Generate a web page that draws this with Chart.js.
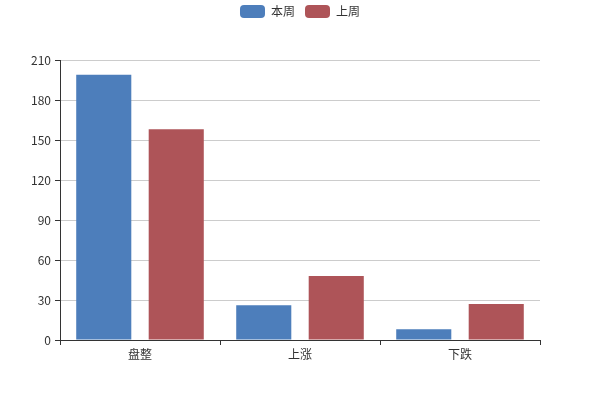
<!DOCTYPE html>
<html>
<head>
<meta charset="utf-8">
<script src="https://cdn.jsdelivr.net/npm/chart.js@4/dist/chart.umd.min.js"></script>
<style>
  html, body { margin: 0; padding: 0; background: #fff; }
  #wrap { width: 600px; height: 400px; }
</style>
</head>
<body>
<div id="wrap"><canvas id="chart"></canvas></div>
<script>
const categories = ['盘整', '上涨', '下跌']
const thisWeek = [199, 26, 8]
const lastWeek = [158, 48, 27]
const seriesNames = ['本周', '上周']

const fontFamily = '"Noto Sans CJK SC", "Microsoft YaHei", sans-serif'
const textColor = '#333'

const chartE = document.getElementById('chart')

// extra room below the legend, like the original
const legendGap = {
   id: 'legendGap',
   beforeInit(chart) {
      const fit = chart.legend.fit
      chart.legend.fit = function () {
         fit.call(this)
         this.height += 32
      }
   }
}

new Chart(chartE, {
   type: 'bar',
   data: {
      labels: categories,
      datasets: [
         {
            label: seriesNames[0],
            data: thisWeek,
            backgroundColor: '#4d7ebb',
            borderWidth: 0
         },
         {
            label: seriesNames[1],
            data: lastWeek,
            backgroundColor: '#ae5458',
            borderWidth: 0
         }
      ]
   },
   plugins: [legendGap],
   options: {
      responsive: true,
      maintainAspectRatio: false,
      animation: false,
      layout: {
         padding: { top: -5, right: 0, bottom: 0, left: 0 }
      },
      datasets: {
         bar: {
            categoryPercentage: 0.906,
            barPercentage: 0.76
         }
      },
      plugins: {
         legend: {
            position: 'top',
            labels: {
               boxWidth: 25,
               boxHeight: 13,
               useBorderRadius: true,
               borderRadius: 4,
               padding: 10,
               color: textColor,
               font: { family: fontFamily, size: 12 }
            }
         },
         tooltip: { enabled: false }
      },
      scales: {
         x: {
            border: { color: textColor, width: 1 },
            grid: {
               offset: true,
               drawOnChartArea: false,
               drawTicks: true,
               tickLength: 5,
               tickColor: textColor
            },
            ticks: {
               color: textColor,
               font: { family: fontFamily, size: 12 },
               padding: 2
            },
            afterFit: (scale) => { scale.height = 60 }
         },
         y: {
            min: 0,
            max: 210,
            border: { color: textColor, width: 1 },
            grid: {
               color: '#cccccc',
               drawTicks: true,
               tickLength: 5,
               tickColor: textColor
            },
            ticks: {
               stepSize: 30,
               color: textColor,
               font: { family: fontFamily, size: 12 },
               padding: 4
            },
            afterFit: (scale) => { scale.width = 60 }
         },
         // empty right-hand axis, only keeps the right margin
         yRight: {
            position: 'right',
            min: 0,
            max: 210,
            border: { display: false },
            grid: { display: false },
            ticks: { display: false },
            afterFit: (scale) => { scale.width = 60 }
         }
      }
   }
})
</script>
</body>
</html>
